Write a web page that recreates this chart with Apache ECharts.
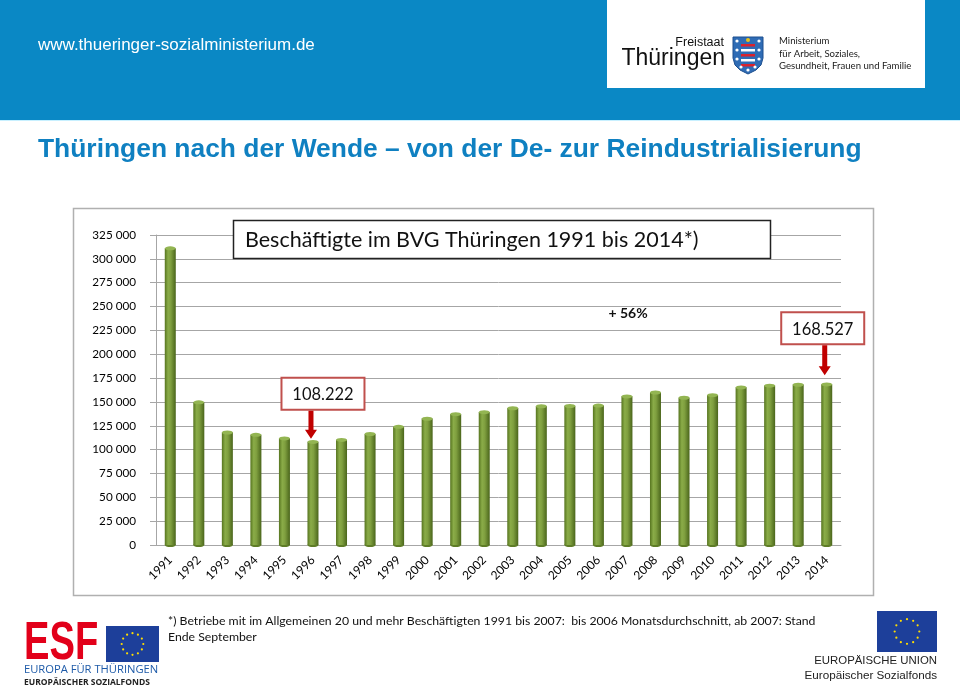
<!DOCTYPE html>
<html>
<head>
<meta charset="utf-8">
<script src="https://cdn.jsdelivr.net/npm/echarts@6/dist/echarts.min.js"></script>
<style>
html,body{margin:0;padding:0;background:#fff;}
#main{width:960px;height:688px;}
</style>
</head>
<body>
<div id="main"></div>
<script>
// ---- data ----
const years = ['1991','1992','1993','1994','1995','1996','1997','1998','1999','2000','2001','2002',
               '2003','2004','2005','2006','2007','2008','2009','2010','2011','2012','2013','2014'];
const employees = [311200,149700,118100,115700,111900,108222,110300,116500,124000,132500,137300,139400,
                   143500,145600,145900,146300,155900,160000,154500,157200,165400,167200,168200,168527];
const yMin = 0, yMax = 325000, yStep = 25000;
const chartTitle = 'Beschäftigte im BVG Thüringen 1991 bis 2014*)';
const pageTitle = 'Thüringen nach der Wende – von der De- zur Reindustrialisierung';
const growthLabel = '+ 56%';
const callouts = [
  {year:'1996', value:108222, text:'108.222'},
  {year:'2014', value:168527, text:'168.527'}
];
const footnote1 = '*) Betriebe mit im Allgemeinen 20 und mehr Beschäftigten 1991 bis 2007:  bis 2006 Monatsdurchschnitt, ab 2007: Stand';
const footnote2 = 'Ende September';

const chart = echarts.init(document.getElementById('main'), null, {renderer:'canvas'});
const cFont = 'Lato, "Noto Sans", sans-serif';
const barGrad = new echarts.graphic.LinearGradient(0,0,1,0,[
  {offset:0,color:'#56741f'},{offset:0.3,color:'#8aac48'},{offset:0.55,color:'#7f9f3f'},{offset:1,color:'#4a651b'}
]);

chart.setOption({
  animation:false,
  backgroundColor:'#fff',
  grid:{left:156,right:119,top:235,bottom:143},
  xAxis:{
    type:'category', data:years,
    axisLine:{lineStyle:{color:'#a6a6a6'}},
    axisTick:{lineStyle:{color:'#a6a6a6'},length:5},
    axisLabel:{rotate:45,color:'#000',fontFamily:cFont,fontSize:12,margin:13,interval:0}
  },
  yAxis:{
    type:'value', min:yMin, max:yMax, interval:yStep,
    axisLine:{show:true,lineStyle:{color:'#a6a6a6'}},
    axisTick:{show:true,lineStyle:{color:'#a6a6a6'},length:6},
    splitLine:{lineStyle:{color:'#a6a6a6'}},
    axisLabel:{color:'#000',fontFamily:cFont,fontSize:11.7,margin:20,
      formatter:v=>v===0?'0':String(v).replace(/\B(?=(\d{3})+(?!\d))/g,' ')}
  },
  series:[
    {type:'bar',data:employees,barWidth:11,itemStyle:{color:barGrad},z:2},
    {type:'pictorialBar',data:employees,symbol:'circle',symbolSize:[11,4],symbolPosition:'end',
     symbolOffset:[0,'-50%'],itemStyle:{color:'#93b552',borderColor:'#5f7d27',borderWidth:0.5},z:3},
    {type:'pictorialBar',data:employees,symbol:'circle',symbolSize:[11,4],symbolPosition:'start',
     symbolOffset:[0,'50%'],itemStyle:{color:'#5f7d27'},z:1}
  ]
});

// ---- decorations & annotations ----
const g = [];
function txt(x,y,text,font,fill,align,z,extra){
  const el = {type:'text',x:x,y:y,z:z||5,style:{text:text,font:font,fill:fill||'#111',align:align||'left',verticalAlign:'middle'}};
  if(extra) Object.assign(el,extra);
  g.push(el);
}
// header band
g.push({type:'rect',shape:{x:0,y:0,width:960,height:120},style:{fill:'#0a88c5'},z:0});
g.push({type:'rect',shape:{x:0,y:120,width:960,height:1},style:{fill:'#c8f0ff'},z:0});
txt(38,45,'www.thueringer-sozialministerium.de','17px "Liberation Sans", Arial, sans-serif','#fff');
// logo box
g.push({type:'rect',shape:{x:607,y:0,width:318,height:88},style:{fill:'#fff'},z:1});
txt(724,43,'Freistaat','12.5px "Liberation Sans", Arial, sans-serif','#111','right');
txt(725,59,'Thüringen','23px "Liberation Sans", Arial, sans-serif','#111','right');
// shield
g.push({type:'polygon',z:2,shape:{points:[[733,37],[763,37],[763,58],[761,65],[756,70],[748,74],[740,70],[735,65],[733,58]]},
  style:{fill:'#2f6cb5',stroke:'#1d4f8f',lineWidth:1}});
for(let i=0;i<5;i++){
  g.push({type:'rect',z:3,shape:{x:741,y:44+i*5,width:14,height:2.5},style:{fill:i%2?'#fff':'#d9232e'}});
}
[[737,41],[759,41],[737,50],[759,50],[737,59],[759,59],[741,67],[755,67],[748,70]].forEach(p=>{
  g.push({type:'circle',z:3,shape:{cx:p[0],cy:p[1],r:1.6},style:{fill:'#fff'}});
});
g.push({type:'circle',z:3,shape:{cx:748,cy:40,r:2},style:{fill:'#e8c21a'}});
txt(779,41,'Ministerium','9.6px Lato, sans-serif','#222');
txt(779,53.5,'für Arbeit, Soziales,','9.6px Lato, sans-serif','#222');
txt(779,66,'Gesundheit, Frauen und Familie','9.6px Lato, sans-serif','#222');
// page title
txt(38,150,pageTitle,'bold 26.4px "Liberation Sans", Arial, sans-serif','#0f80c1');
// chart frame
g.push({type:'rect',shape:{x:73.5,y:208.5,width:800,height:387},style:{fill:'none',stroke:'#b0b0b0',lineWidth:1.5},z:0});
// chart title box
g.push({type:'rect',shape:{x:233.5,y:220.5,width:537,height:38},style:{fill:'#fff',stroke:'#222',lineWidth:1.5},z:10});
txt(245,240,chartTitle,'21.5px '+cFont,'#111','left',11);
// growth label
txt(628,313,growthLabel,'bold 14px '+cFont,'#111','center',11);
// callouts anchored to bars
const co = [{dx:10, gap:32, tipGap:3},{dx:-4, gap:40, tipGap:9}];
callouts.forEach((c,i)=>{
  const p = chart.convertToPixel({gridIndex:0},[c.year,c.value]);
  const o = co[i];
  const bw = 83, bh = 32;
  const bx = p[0]+o.dx-bw/2, by = p[1]-o.gap-bh;
  g.push({type:'rect',shape:{x:bx,y:by,width:bw,height:bh},style:{fill:'#fff',stroke:'#c0504d',lineWidth:2},z:10});
  txt(bx+bw/2,by+bh/2+1,c.text,'16.5px '+cFont,'#111','center',11);
  const top = by+bh+1, tip = p[1]-o.tipGap, ax = p[0]-2;
  g.push({type:'polygon',shape:{points:[[ax-2.5,top],[ax+2.5,top],[ax+2.5,tip-9],[ax+6,tip-9],[ax,tip],[ax-6,tip-9],[ax-2.5,tip-9]]},
    style:{fill:'#c00000'},z:11});
});
// footnote
txt(168,621,footnote1,'12.25px '+cFont);
txt(168,637,footnote2,'12.25px '+cFont);
// ESF logo
txt(24,644,'ESF','bold 53px "Liberation Sans", Arial, sans-serif','#e2001a','left',5,{scaleX:0.72,originX:0,originY:0});
function euFlag(x,y,w,h){
  g.push({type:'rect',shape:{x:x,y:y,width:w,height:h},style:{fill:'#1d3f9a'}});
  const cx=x+w/2, cy=y+h/2, r=h*0.3;
  for(let k=0;k<12;k++){
    const a=k*Math.PI/6;
    g.push({type:'circle',z:6,shape:{cx:cx+r*Math.cos(a),cy:cy+r*Math.sin(a),r:1.1},style:{fill:'#ffdd00'}});
  }
}
euFlag(106,626,53,36);
txt(24,670,'EUROPA FÜR THÜRINGEN','11.2px "Open Sans", sans-serif','#1d5aa8');
txt(24,683,'EUROPÄISCHER SOZIALFONDS','bold 8.5px "Open Sans", sans-serif','#222');
euFlag(877,611,60,41);
txt(937,661,'EUROPÄISCHE UNION','11.4px "Liberation Sans", Arial, sans-serif','#222','right');
txt(937,676,'Europäischer Sozialfonds','11.7px "Liberation Sans", Arial, sans-serif','#222','right');

chart.setOption({graphic:{elements:g}});
</script>
</body>
</html>
